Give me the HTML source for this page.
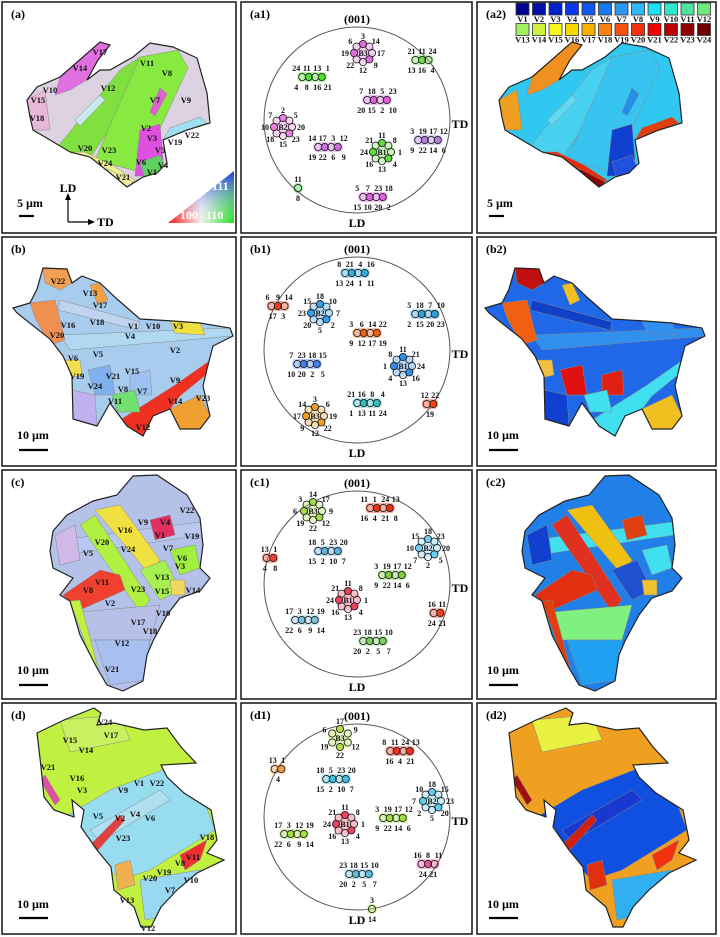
<!DOCTYPE html>
<html><head><meta charset="utf-8"><style>
html,body{margin:0;padding:0;background:#fff}
svg{display:block;font-family:"Liberation Serif",serif}
.pl{font-weight:bold;font-size:12px}
.vl{font-weight:bold;font-size:8.5px;fill:#111}
.nl{font-weight:bold;font-size:8px;fill:#111}
</style></head><body>
<svg id="fig" width="720" height="937" viewBox="0 0 720 937" xmlns="http://www.w3.org/2000/svg">
<defs>
<linearGradient id="tri1" x1="0" y1="1" x2="1" y2="1"><stop offset="0" stop-color="#ff1010"/><stop offset="0.5" stop-color="#f0f0f0"/><stop offset="1" stop-color="#20e020"/></linearGradient>
<linearGradient id="tri2" x1="0" y1="1" x2="0" y2="0"><stop offset="0" stop-color="#fff" stop-opacity="0"/><stop offset="1" stop-color="#2020ff" stop-opacity="0.9"/></linearGradient>
</defs>
<g id="root"></g>
</svg>
<script>
const NS='http://www.w3.org/2000/svg';
const root=document.getElementById('root');
function mk(tag,attrs,parent){const e=document.createElementNS(NS,tag);for(const k in attrs)e.setAttribute(k,attrs[k]);(parent||root).appendChild(e);return e;}
function txt(s,x,y,cls,parent,anchor){const t=mk('text',{x:x,y:y,class:cls,'text-anchor':anchor||'start'},parent);t.textContent=s;return t;}

const rowTops=[2,237,470,703];
const rowH=[231,229,229,231];
const colX=[[2,236],[241,472],[477,716]];
const rowKeys=['a','b','c','d'];
const scaleText=['5 µm','10 µm','10 µm','10 µm'];
const scaleTextY=[207,439,674,908];
const scaleBarY=[216,450,685,918];
const shift3=472;

rowKeys.forEach((k,r)=>{
  colX.forEach((c,ci)=>{
    const p=mk('rect',{x:c[0],y:rowTops[r],width:c[1]-c[0],height:rowH[r],fill:'#fff',stroke:'#222','stroke-width':1.6});
    
    
    const lab=txt('('+k+(ci?ci:'')+')',c[0]+9,rowTops[r]+16,'pl');
    
    
  });
});

const outlines={
 a:[[60,77],[100,42],[110,45],[98,60],[87,80],[100,70],[110,70],[133,57],[150,43],[173,47],[197,58],[207,93],[210,123],[187,130],[163,140],[167,163],[157,173],[143,177],[127,187],[110,173],[90,157],[70,152],[50,140],[33,130],[30,117],[27,100],[37,87]],
 b:[[43,268],[67,269],[72,283],[82,276],[100,283],[117,299],[140,319],[173,321],[200,323],[230,328],[233,336],[213,346],[207,369],[203,386],[210,416],[200,429],[180,429],[170,409],[153,416],[143,436],[127,426],[110,403],[97,426],[73,419],[72,376],[63,356],[50,339],[17,313],[13,308],[30,303],[37,289]],
 c:[[133,476],[157,475],[187,495],[200,518],[203,545],[200,568],[210,578],[200,591],[180,598],[167,615],[153,641],[147,655],[143,681],[123,691],[107,685],[97,668],[80,635],[70,601],[60,595],[73,578],[53,568],[50,551],[53,531],[67,515],[93,501],[117,495]],
 d:[[37,733],[64,720],[94,708],[101,713],[97,725],[114,723],[144,730],[167,728],[181,747],[196,763],[161,765],[167,777],[184,793],[211,810],[217,840],[207,853],[224,860],[197,873],[177,890],[161,907],[151,927],[141,927],[134,907],[114,890],[111,867],[97,850],[81,827],[84,810],[72,800],[74,817],[54,810],[44,797],[41,767]]
};
const baseCol={a:['#dcd2e2','#30c8f0'],b:['#a8ccee','#2068e8'],c:['#b4c2ea','#2080e8'],d:['#c0f040','#f0a020']};
const regions={
 a:[
  [[[60,77],[100,42],[110,45],[87,80],[70,90],[55,95]],'#e070e0','#f09020'],
  [[[27,100],[45,90],[50,130],[33,130]],'#e8b8d8','#f0a020'],
  [[[55,150],[120,70],[140,57],[148,72],[90,158]],'#80e040','#48d0f0'],
  [[[95,160],[140,57],[178,50],[188,68],[140,172]],'#88ea40','#38c4f0'],
  [[[75,120],[100,95],[105,100],[80,126]],'#c8e8f0','#60d8f0'],
  [[[150,112],[160,88],[167,94],[155,116]],'#e060d0','#2090e8'],
  [[[135,176],[140,130],[160,124],[163,160],[150,176]],'#e050e0','#1040d0'],
  [[[140,162],[160,155],[166,170],[145,179]],'#60d060','#2050e0'],
  [[[70,152],[90,157],[110,173],[127,187],[135,180],[112,165],[85,152]],'#f0f090','#e03010'],
  [[[100,168],[127,187],[133,182],[110,170]],'#f0f0a0','#900000'],
  [[[163,140],[187,130],[207,123],[200,117],[170,128]],'#a0e0f0','#e04010']
 ],
 b:[
  [[[60,335],[230,328],[233,336],[70,350]],'#b0d8f0','#3090f0'],
  [[[60,300],[140,322],[138,330],[58,310]],'#c0d4f0','#1040c8'],
  [[[43,268],[67,269],[72,283],[60,290],[45,283]],'#f0a050','#c01010'],
  [[[90,285],[100,283],[108,300],[98,305]],'#f0a040','#f0c020'],
  [[[30,303],[55,300],[65,340],[50,345],[35,318]],'#f09050','#f06010'],
  [[[170,321],[200,323],[205,335],[175,333]],'#f0e040','#3090f0'],
  [[[120,420],[175,385],[225,350],[228,357],[180,396],[150,436],[140,437]],'#f03020','#40e0f0'],
  [[[88,370],[110,365],[115,395],[95,395]],'#80b0f0','#e01010'],
  [[[130,375],[150,370],[152,395],[130,395]],'#9ec0f0','#e02010'],
  [[[170,409],[200,395],[210,416],[200,429],[180,429]],'#f0a030','#f0c020'],
  [[[65,360],[80,360],[82,375],[70,378]],'#f0e050','#f0c040'],
  [[[112,395],[135,390],[140,412],[118,412]],'#70e070','#40e0f0'],
  [[[72,390],[95,395],[97,426],[73,419]],'#c0b0f0','#1040d0']
 ],
 c:[
  [[[60,540],[200,522],[203,535],[60,556]],'#b8c8f0','#40e0f0'],
  [[[80,525],[95,515],[150,600],[140,612]],'#b0f040','#e03020'],
  [[[95,510],[120,505],[160,560],[150,575]],'#f0e040','#f0c010'],
  [[[63,595],[100,570],[120,575],[125,590],[80,610]],'#f04030','#e03010'],
  [[[150,520],[170,515],[175,535],[155,540]],'#e03060','#e04010'],
  [[[140,570],[165,560],[180,590],[160,600]],'#a8f050','#2050d0'],
  [[[170,550],[195,545],[200,568],[180,575]],'#a0f040','#40e0f0'],
  [[[170,580],[185,580],[185,595],[172,595]],'#f0d860','#f0c030'],
  [[[80,612],[160,605],[150,640],[85,640]],'#b8c0e8','#80f080'],
  [[[70,601],[80,600],[100,675],[95,670]],'#c0f040','#e04010'],
  [[[95,640],[150,640],[145,680],[110,685]],'#a8c0f0','#20a0f0'],
  [[[55,535],[75,525],[80,560],[60,565]],'#d0b8e8','#1040d0']
 ],
 d:[
  [[[60,720],[120,715],[130,740],[70,752]],'#c8f060','#e8f040'],
  [[[60,820],[110,790],[175,765],[200,790],[215,830],[150,870],[120,880],[100,860]],'#98dcf0','#1050e0'],
  [[[90,830],[160,790],[170,800],[100,842]],'#b0e0f0','#1838d0'],
  [[[75,860],[120,815],[125,820],[80,870]],'#e04040','#d02010'],
  [[[180,855],[207,840],[200,860],[185,870]],'#f03030','#f03010'],
  [[[40,780],[45,775],[60,800],[55,805]],'#e050a0','#a01010'],
  [[[115,865],[130,860],[135,885],[118,890]],'#f0b050','#e03010'],
  [[[140,880],[200,870],[210,880],[170,915],[145,920]],'#98d8f0','#30b0f0']
 ]
};
const vLabels={
 a:[['V17',100,52],['V14',80,68],['V11',147,63],['V8',167,73],['V12',108,88],['V7',155,100],['V9',186,100],['V10',50,90],['V15',38,100],['V18',37,118],['V2',146,128],['V3',152,138],['V19',175,142],['V22',192,135],['V20',85,148],['V23',109,150],['V5',160,150],['V6',141,162],['V4',163,165],['V24',105,163],['V1',152,172],['V21',123,177]],
 b:[['V22',58,281],['V13',90,293],['V17',100,305],['V18',97,322],['V1',133,326],['V10',153,326],['V3',178,326],['V16',68,325],['V20',57,335],['V4',130,336],['V5',98,354],['V2',175,350],['V6',73,358],['V19',77,376],['V21',113,376],['V15',132,371],['V9',175,380],['V24',95,386],['V8',123,389],['V7',142,391],['V11',115,401],['V14',175,401],['V23',203,398],['V12',143,427]],
 c:[['V22',187,510],['V9',143,522],['V4',165,522],['V16',125,530],['V1',160,535],['V19',192,536],['V20',102,542],['V24',128,549],['V7',168,548],['V5',88,553],['V6',182,558],['V3',180,566],['V13',162,577],['V11',102,582],['V14',193,590],['V8',88,590],['V23',138,589],['V15',162,591],['V2',110,603],['V10',163,613],['V17',138,622],['V18',150,631],['V12',122,643],['V21',112,669]],
 d:[['V24',105,722],['V15',70,740],['V17',111,735],['V14',86,750],['V21',48,767],['V16',77,778],['V3',82,790],['V9',123,790],['V1',139,783],['V22',157,783],['V5',98,816],['V2',120,818],['V4',135,814],['V6',150,818],['V23',123,838],['V18',207,837],['V11',193,857],['V8',180,863],['V19',164,872],['V20',150,878],['V10',191,880],['V7',170,890],['V13',127,900],['V12',148,928]]
};
function pts(a,dx){return a.map(p=>(p[0]+dx)+','+p[1]).join(' ');}
rowKeys.forEach((k,r)=>{
  [0,1].forEach(side=>{
    const dx=side?shift3:0;
    const cp=mk('clipPath',{id:'clip'+k+side},document.querySelector('defs'));
    mk('polygon',{points:pts(outlines[k],dx)},cp);
    const g=mk('g',{'clip-path':'url(#clip'+k+side+')'});
    
    
    mk('polygon',{points:pts(outlines[k],dx),fill:baseCol[k][side]},g);
    regions[k].forEach((rg,i)=>{
      const pg=mk('polygon',{points:pts(rg[0],dx),fill:rg[side+1],stroke:'#888','stroke-width':0.5},g);
      
      
    });
    const ol=mk('polygon',{points:pts(outlines[k],dx),fill:'none',stroke:'#222','stroke-width':1.2});
    
    
    if(!side){
      vLabels[k].forEach(v=>{
        const t=txt(v[0],v[1],v[2]+3,'vl',null,'middle');
        
        
      });
    }
    const sx=(side?480:10)+7;
    const st=txt(scaleText[r],sx,scaleTextY[r],'pl');
    
    
    const sb=mk('line',{x1:sx+2,x2:sx+(r?31:17),y1:scaleBarY[r],y2:scaleBarY[r],stroke:'#000','stroke-width':2.2});
    
    
  });
});

const ax=mk('g',{});


mk('path',{d:'M68,222 V198 M68,222 H90',stroke:'#000','stroke-width':1.2,fill:'none'},ax);
mk('path',{d:'M65,200 L68,193 L71,200 Z M88,219 L95,222 L88,225 Z',fill:'#000'},ax);
txt('LD',68,192,'pl',ax,'middle');
txt('TD',97,226,'pl',ax);
const tri=mk('g',{});


mk('path',{d:'M168,223 L234,171 L234,223 Z',fill:'url(#tri1)'},tri);
mk('path',{d:'M168,223 L234,171 L234,223 Z',fill:'url(#tri2)'},tri);
txt('100',180,219,'pl',tri).setAttribute('fill','#fff');
txt('110',206,219,'pl',tri).setAttribute('fill','#fff');
txt('111',212,190,'pl',tri).setAttribute('fill','#fff');

const legColors=['#000090','#0010a8','#0020d0','#0838f0','#1058f0','#1878f0','#2898f0','#30b8f8','#20e0f8','#30e8d0','#50e0a0','#70e880','#a0f060','#d0f040','#f8f820','#f8d800','#f8b000','#f88010','#f85010','#f03010','#f00000','#c00000','#900000','#700000'];
const leg=mk('g',{});


legColors.forEach((c,i)=>{
  const row=Math.floor(i/12),col=i%12;
  const x=516+col*16.5,y=3+row*20.5;
  const s=mk('rect',{x:x,y:y,width:13,height:12,fill:c,stroke:'#333','stroke-width':0.8},leg);
  
  
  const t=txt('V'+(i+1),x+6.5,y+19,'vl',leg,'middle');
  
  
});

const pfCx=357;
const pfCy=[120,350,584,817];
const pfR=93;
const clA=[[6,-67,'#e070e0',['3','14','17','9','12','22','19','6'],'B3'],[65,-60,'#70e040',['21','11','24','13','16','4'],''],[-45,-43,'#50e030',['24','11','13','1','4','8','16','21'],''],[20,-20,'#e060e0',['7','18','5','23','20','15','2','10'],''],[-74,7,'#f080e0',['2','5','20','23','15','18','10','7'],'B2'],[-29,27,'#d070e0',['14','17','3','12','19','22','6','9'],''],[25,32,'#60e040',['11','8','1','4','13','16','24','21'],'B1'],[71,20,'#b080e0',['3','19','17','12','9','22','14','6'],''],[16,77,'#e060e0',['5','7','23','18','15','10','20','2'],''],[-59,68,'#40d040',['11','8'],'']];
const clB=[[-2,-77,'#30b0e0',['8','21','4','16','13','24','1','11'],''],[-79,-44,'#f04020',['6','9','14','17','3'],''],[-37,-37,'#30a0f0',['18','10','7','2','5','20','23','15'],'B2'],[68,-36,'#30a0e0',['5','18','7','10','2','15','20','23'],''],[10,-17,'#f06010',['3','6','14','22','9','12','17','19'],''],[-50,14,'#4080f0',['7','23','18','15','10','20','2','5'],''],[46,16,'#3090f0',['11','21','24','16','13','4','1','8'],'B1'],[10,53,'#30c0c0',['21','16','8','4','1','13','11','24'],''],[73,54,'#f04010',['12','22','19'],''],[-42,66,'#f0a020',['3','6','19','22','12','9','17','14'],'B3']];
const clC=[[-44,-73,'#a0e040',['14','17','9','12','22','19','6','3'],'B3'],[23,-76,'#f03010',['11','1','24','13','16','4','21','8'],''],[-87,-26,'#f04030',['13','1','4','8'],''],[-29,-33,'#60b0e0',['18','5','23','20','15','2','10','7'],''],[71,-36,'#70d0f0',['18','23','20','5','2','7','10','15'],'B2'],[35,-9,'#80d040',['3','19','17','12','9','22','14','6'],''],[-9,16,'#f04060',['11','8','1','4','13','16','24','21'],'B1'],[-52,36,'#80c0e0',['17','3','12','19','22','6','9','14'],''],[80,29,'#f04020',['16','11','24','21'],''],[16,57,'#80d060',['23','18','15','10','20','2','5','7'],'']];
const clD=[[-17,-79,'#b0e040',['17','9','12','22','19','6'],'B3'],[43,-66,'#f03020',['8','11','24','13','16','4','21'],''],[-79,-48,'#f0a040',['13','1','4'],''],[-21,-38,'#40c0e0',['18','5','23','20','15','2','10','7'],''],[75,-16,'#60d0f0',['18','15','23','20','5','2','7','10'],'B2'],[36,1,'#a0e040',['3','19','17','12','9','22','14','6'],''],[-12,7,'#f04060',['11','8','1','4','13','16','24','21'],'B1'],[-63,17,'#a0e040',['17','3','12','19','22','6','9','14'],''],[71,47,'#f050a0',['16','8','11','24','21'],''],[2,57,'#60c0e0',['23','18','15','10','20','2','5','7'],''],[15,92,'#a0e040',['3','14'],'']];
const clusters=[clA,clB,clC,clD];
clusters.forEach((cl,r)=>{
  const cy=pfCy[r];
  const g=mk('g',{});
  
  
  const circ=mk('circle',{cx:pfCx,cy:cy,r:pfR,fill:'none',stroke:'#555','stroke-width':1},g);
  
  
  txt('(001)',pfCx,cy-97,'pl',g,'middle');
  txt('TD',pfCx+pfR+10,cy+8,'pl',g,'middle');
  txt('LD',pfCx,cy+107,'pl',g,'middle');
  cl.forEach(c=>{
    const x=pfCx+c[0],y=cy+c[1],labs=c[3],n=labs.length;
    const cg=mk('g',{},g);
    
    
    if(c[4]){
      const rr=9;
      mk('ellipse',{cx:x,cy:y,rx:rr+3,ry:rr+2,fill:c[2],opacity:0.35},cg);
      labs.forEach((l,i)=>{
        const a=-Math.PI/2+i*2*Math.PI/n;
        mk('circle',{cx:x+rr*Math.cos(a),cy:y+rr*Math.sin(a),r:3.6,fill:i%3===0?c[2]:'none',stroke:'#222','stroke-width':0.9},cg);
        const t=txt(l,x+(rr+9)*Math.cos(a),y+(rr+8)*Math.sin(a)+3,'nl',cg,'middle');
        
        
      });
      const t=txt(c[4],x,y+3,'nl',cg,'middle');
      
      
    } else {
      const m=Math.ceil(n/2),sp=6.5,w=(m-1)*sp;
      mk('rect',{x:x-w/2-5,y:y-5,width:w+10,height:10,rx:4,fill:c[2],opacity:0.4},cg);
      for(let i=0;i<m;i++){
        mk('circle',{cx:x-w/2+i*sp,cy:y,r:3.6,fill:i%2?c[2]:'none',stroke:'#222','stroke-width':0.9},cg);
      }
      labs.forEach((l,i)=>{
        const top=i<m, j=top?i:i-m, cnt=top?m:n-m;
        const ls=10.5, lw=(cnt-1)*ls;
        const t=txt(l,x-lw/2+j*ls,top?y-6:y+13,'nl',cg,'middle');
        
        
      });
    }
  });
});
</script>
</body></html>
